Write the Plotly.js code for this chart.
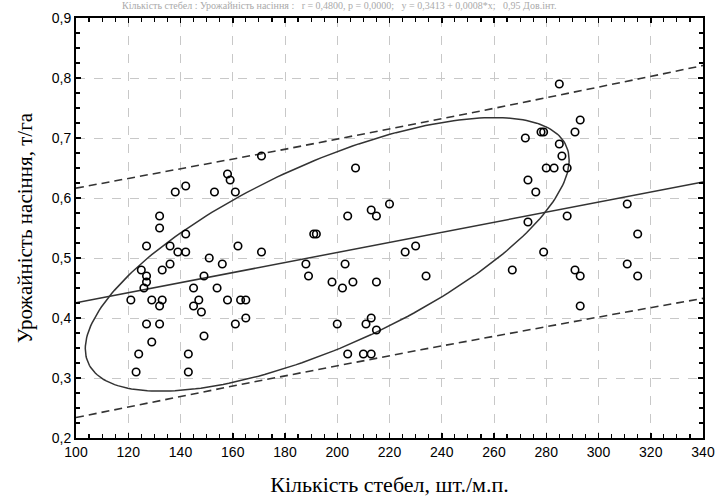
<!DOCTYPE html>
<html><head><meta charset="utf-8">
<script src="https://cdn.plot.ly/plotly-3.0.1.min.js"></script>
<style>html,body{margin:0;padding:0;background:#fff}#c{width:720px;height:504px}</style>
</head><body><div id="c"></div>
<script>
// Stems per running metre (x) and seed yield, t/ha (y)
const stems = [171,158,159,138,142,153,161,132,132,142,127,136,162,139,142,171,151,156,136,125,133,127,149,127,126,145,154,121,129,133,147,158,163,165,132,145,148,165,127,132,161,129,149,124,143,123,143,
207,204,191,192,188,189,198,202,206,203,200,204,220,213,215,226,230,234,215,211,213,215,210,213,
285,293,291,278,279,272,285,286,280,283,288,273,276,273,288,311,315,279,267,291,293,311,315,293];
const yieldSeed = [0.67,0.64,0.63,0.61,0.62,0.61,0.61,0.57,0.55,0.54,0.52,0.52,0.52,0.51,0.51,0.51,0.50,0.49,0.49,0.48,0.48,0.47,0.47,0.46,0.45,0.45,0.45,0.43,0.43,0.43,0.43,0.43,0.43,0.43,0.42,0.42,0.41,0.40,0.39,0.39,0.39,0.36,0.37,0.34,0.34,0.31,0.31,
0.65,0.57,0.54,0.54,0.49,0.47,0.46,0.45,0.46,0.49,0.39,0.34,0.59,0.58,0.57,0.51,0.52,0.47,0.46,0.39,0.40,0.38,0.34,0.34,
0.79,0.73,0.71,0.71,0.71,0.70,0.69,0.67,0.65,0.65,0.65,0.63,0.61,0.56,0.57,0.59,0.54,0.51,0.48,0.48,0.47,0.49,0.47,0.42];
const xTicks = [100,120,140,160,180,200,220,240,260,280,300,320,340];
const yTicks = [0.2,0.3,0.4,0.5,0.6,0.7,0.8,0.9];
const xTitle = 'Кількість стебел, шт./м.п.';
const yTitle = 'Урожайність насіння, т/га';
const topText = 'Кількість стебел : Урожайність насіння :   r = 0,4800, p = 0,0000;   y = 0,3413 + 0,0008*x;   0,95 Дов.інт.';
// ellipse geometry as drawn in the original (half extents in x and y, tilt)
const ellipseHalfX = 92.6, ellipseHalfY = 0.228, ellipseTilt = 0.69;

// regression statistics from the data
const n = stems.length;
const mx = stems.reduce((a,b)=>a+b,0)/n, my = yieldSeed.reduce((a,b)=>a+b,0)/n;
let sxx=0, syy=0, sxy=0;
for (let i=0;i<n;i++){const dx=stems[i]-mx, dy=yieldSeed[i]-my; sxx+=dx*dx; syy+=dy*dy; sxy+=dx*dy;}
const slope = sxy/sxx, intercept = my - slope*mx;
let sse=0; for (let i=0;i<n;i++){const e=yieldSeed[i]-(intercept+slope*stems[i]); sse+=e*e;}
const s = Math.sqrt(sse/(n-2));
const tval = 1.986;
const lineX=[], lineY=[], upY=[], loY=[];
for (let x=100; x<=340; x+=2){
  const yh = intercept+slope*x;
  const hw = tval*s*Math.sqrt(1+1/n+(x-mx)*(x-mx)/sxx);
  lineX.push(x); lineY.push(yh); upY.push(yh+hw); loY.push(yh-hw);
}
const ex=[], ey=[];
for (let i=0;i<=240;i++){
  const t=2*Math.PI*i/240;
  ex.push(mx + ellipseHalfX*Math.cos(t));
  ey.push(my + ellipseHalfY*(ellipseTilt*Math.cos(t)+Math.sqrt(1-ellipseTilt*ellipseTilt)*Math.sin(t)));
}

const lineCol='#333333';
const traces = [
  {x:lineX,y:upY,mode:'lines',line:{color:lineCol,width:1.6,dash:'8px,5px'},hoverinfo:'skip'},
  {x:lineX,y:loY,mode:'lines',line:{color:lineCol,width:1.6,dash:'8px,5px'},hoverinfo:'skip'},
  {x:lineX,y:lineY,mode:'lines',line:{color:lineCol,width:1.5},hoverinfo:'skip'},
  {x:ex,y:ey,mode:'lines',line:{color:lineCol,width:1.5},hoverinfo:'skip'},
  {x:stems,y:yieldSeed,mode:'markers',marker:{symbol:'circle-open',size:7.5,color:'#000',line:{width:1.6,color:'#000'}}}
];
const axBase = {showline:true,linecolor:'#000',linewidth:2,mirror:'ticks',ticks:'inside',ticklen:5,tickwidth:1.5,tickcolor:'#000',
  showgrid:true,gridcolor:'#c8c8c8',griddash:'dash',gridwidth:1,zeroline:false,
  tickfont:{family:'Liberation Sans, Arial, sans-serif',size:14,color:'#000'}};
const layout = {
  width:720,height:504,margin:{l:76,r:17,t:18,b:66},
  paper_bgcolor:'#fff',plot_bgcolor:'#fff',showlegend:false,separators:', ',
  xaxis:Object.assign({},axBase,{range:[100,340],tickvals:xTicks,ticktext:xTicks.map(String),
    minor:{dtick:5,ticks:'inside',ticklen:4,tickcolor:'#000',tickwidth:1.2,showgrid:false},
    title:{text:xTitle,font:{family:'Liberation Serif, Times New Roman, serif',size:22,color:'#000'},standoff:18}}),
  yaxis:Object.assign({},axBase,{range:[0.2,0.9],tickvals:yTicks,ticktext:yTicks.map(v=>v.toFixed(1).replace('.',',')),
    minor:{dtick:0.025,ticks:'inside',ticklen:4,tickcolor:'#000',tickwidth:1.2,showgrid:false},
    title:{text:yTitle,font:{family:'Liberation Serif, Times New Roman, serif',size:21,color:'#000'},standoff:13}}),
  annotations:[{xref:'paper',yref:'paper',x:0.42,y:1,yanchor:'bottom',yshift:5,text:topText,showarrow:false,
    font:{family:'Liberation Serif, Times New Roman, serif',size:10,color:'#aaa'}}]
};
Plotly.newPlot('c',traces,layout,{staticPlot:true});
</script></body></html>
